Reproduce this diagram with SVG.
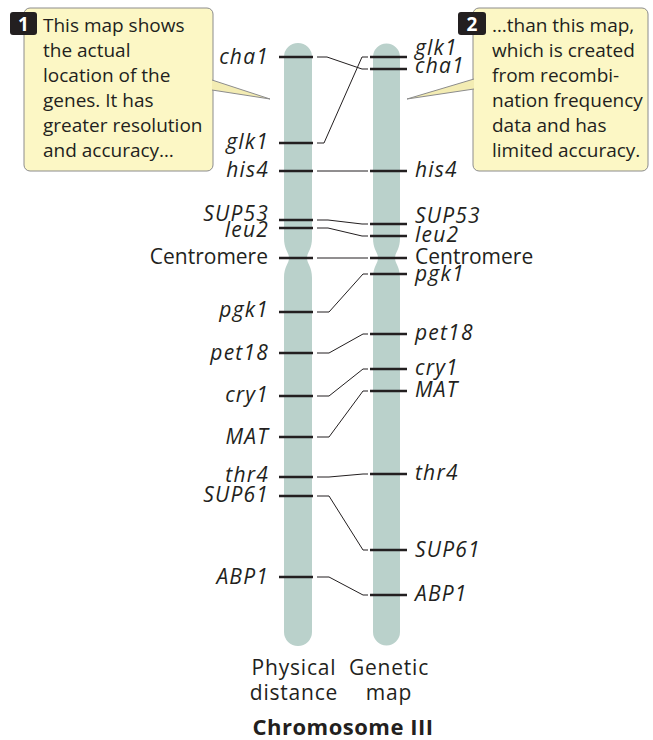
<svg xmlns="http://www.w3.org/2000/svg" width="653" height="740" viewBox="0 0 653 740">
<style>
.chr{fill:#bad1cb}
.tick{stroke:#231f20;stroke-width:2.6}
.con{fill:none;stroke:#231f20;stroke-width:1}
.gene{font-family:"Open Sans","DejaVu Sans",sans-serif;font-style:italic;font-size:21px;letter-spacing:1.2px;fill:#231f20}
.lab{font-family:"Open Sans","DejaVu Sans",sans-serif;font-size:21px;fill:#231f20}
.cap{font-family:"Open Sans","DejaVu Sans",sans-serif;font-size:21px;letter-spacing:0.8px;fill:#231f20;text-anchor:middle}
.title{font-family:"Open Sans","DejaVu Sans",sans-serif;font-size:22px;font-weight:bold;letter-spacing:0.5px;fill:#231f20;text-anchor:middle}
.call{font-family:"Open Sans","DejaVu Sans",sans-serif;font-size:19px;fill:#231f20}
.box{fill:#fcf7c5;stroke:#8c8c8c;stroke-width:1}
.ptr{fill:#f3ecb3;stroke:#8c8c8c;stroke-width:1}
.badge{fill:#231f20}
.num{font-family:"Open Sans","DejaVu Sans",sans-serif;font-weight:bold;font-size:19px;fill:#ffffff;text-anchor:middle}
.L{text-anchor:end}
</style>

<g id="callout1">
<rect class="box" x="24" y="8" width="189" height="163" rx="6"/>
<path class="ptr" d="M212,80 L270,99 L212,90" />
<rect class="badge" x="10" y="12" width="27" height="23" rx="3"/>
<text class="num" x="23.5" y="31">1</text>
<text class="call" x="43" y="32">This map shows</text>
<text class="call" x="43" y="57">the actual</text>
<text class="call" x="43" y="82">location of the</text>
<text class="call" x="43" y="107">genes. It has</text>
<text class="call" x="43" y="132">greater resolution</text>
<text class="call" x="43" y="157">and accuracy…</text>
</g>

<g id="callout2">
<rect class="box" x="473" y="8" width="175" height="163" rx="6"/>
<path class="ptr" d="M474,79 L407,99 L474,89" />
<rect class="badge" x="458" y="12" width="28" height="23" rx="3"/>
<text class="num" x="472" y="31">2</text>
<text class="call" x="492" y="32">…than this map,</text>
<text class="call" x="492" y="57">which is created</text>
<text class="call" x="492" y="82">from recombi-</text>
<text class="call" x="492" y="107">nation frequency</text>
<text class="call" x="492" y="132">data and has</text>
<text class="call" x="492" y="157">limited accuracy.</text>
</g>

<g id="physical-chromosome">
<path class="chr" d="M284,57 A14,14 0 0 1 312,57 L312,238 C312,250 307,252 307,258 C307,264 312,266 312,278 L312,632 A14,14 0 0 1 284,632 L284,278 C284,266 289,264 289,258 C289,252 284,250 284,238 Z"/>
<g class="tick">
<line x1="279" y1="57" x2="313" y2="57"/>
<line x1="279" y1="143" x2="313" y2="143"/>
<line x1="279" y1="171" x2="313" y2="171"/>
<line x1="279" y1="220" x2="313" y2="220"/>
<line x1="279" y1="228" x2="313" y2="228"/>
<line x1="279" y1="258" x2="313" y2="258"/>
<line x1="279" y1="312" x2="313" y2="312"/>
<line x1="279" y1="353" x2="313" y2="353"/>
<line x1="279" y1="396" x2="313" y2="396"/>
<line x1="279" y1="437" x2="313" y2="437"/>
<line x1="279" y1="477" x2="313" y2="477"/>
<line x1="279" y1="496" x2="313" y2="496"/>
<line x1="279" y1="577" x2="313" y2="577"/>
</g>
<text class="gene L" x="269" y="64">cha1</text>
<text class="gene L" x="269" y="149">glk1</text>
<text class="gene L" x="269" y="177">his4</text>
<text class="gene L" x="269" y="221">SUP53</text>
<text class="gene L" x="269" y="237">leu2</text>
<text class="lab L" x="268" y="264">Centromere</text>
<text class="gene L" x="269" y="317">pgk1</text>
<text class="gene L" x="269" y="360">pet18</text>
<text class="gene L" x="269" y="402">cry1</text>
<text class="gene L" x="269" y="444">MAT</text>
<text class="gene L" x="269" y="482">thr4</text>
<text class="gene L" x="269" y="502">SUP61</text>
<text class="gene L" x="269" y="584">ABP1</text>
</g>

<g id="genetic-chromosome">
<path class="chr" d="M373,57 A13.5,13.5 0 0 1 400,57 L400,238 C400,250 395,252 395,258 C395,264 400,266 400,278 L400,632 A13.5,13.5 0 0 1 373,632 L373,278 C373,266 378,264 378,258 C378,252 373,250 373,238 Z"/>
<g class="tick">
<line x1="370" y1="57" x2="407" y2="57"/>
<line x1="370" y1="69" x2="407" y2="69"/>
<line x1="370" y1="171" x2="407" y2="171"/>
<line x1="370" y1="224" x2="407" y2="224"/>
<line x1="370" y1="236" x2="407" y2="236"/>
<line x1="370" y1="258" x2="407" y2="258"/>
<line x1="370" y1="274" x2="407" y2="274"/>
<line x1="370" y1="334" x2="407" y2="334"/>
<line x1="370" y1="369" x2="407" y2="369"/>
<line x1="370" y1="391" x2="407" y2="391"/>
<line x1="370" y1="474" x2="407" y2="474"/>
<line x1="370" y1="550" x2="407" y2="550"/>
<line x1="370" y1="595" x2="407" y2="595"/>
</g>
<text class="gene" x="415" y="55">glk1</text>
<text class="gene" x="415" y="73">cha1</text>
<text class="gene" x="415" y="177">his4</text>
<text class="gene" x="415" y="223">SUP53</text>
<text class="gene" x="415" y="242">leu2</text>
<text class="lab" x="415" y="264">Centromere</text>
<text class="gene" x="415" y="281">pgk1</text>
<text class="gene" x="415" y="340">pet18</text>
<text class="gene" x="415" y="375">cry1</text>
<text class="gene" x="415" y="397">MAT</text>
<text class="gene" x="415" y="480">thr4</text>
<text class="gene" x="415" y="557">SUP61</text>
<text class="gene" x="415" y="601">ABP1</text>
</g>

<g id="connectors" class="con">
<path d="M317,57 L327,57 L362,69 L368,69"/>
<path d="M317,143 L324,143 L362,57 L368,57"/>
<path d="M317,171 L368,171"/>
<path d="M317,220 L328,220 L362,224 L368,224"/>
<path d="M317,228 L328,228 L362,236 L368,236"/>
<path d="M317,258 L368,258"/>
<path d="M317,312 L329,312 L363,274 L368,274"/>
<path d="M317,353 L329,353 L363,334 L368,334"/>
<path d="M317,396 L329,396 L363,369 L368,369"/>
<path d="M317,437 L329,437 L363,391 L368,391"/>
<path d="M317,477 L329,477 L363,474 L368,474"/>
<path d="M317,496 L329,496 L363,550 L368,550"/>
<path d="M317,577 L329,577 L363,595 L368,595"/>
</g>

<g id="captions">
<text class="cap" x="294" y="675">Physical</text>
<text class="cap" x="294" y="700">distance</text>
<text class="cap" x="389" y="675">Genetic</text>
<text class="cap" x="389" y="700">map</text>
<text class="title" x="343" y="735">Chromosome III</text>
</g>
</svg>
